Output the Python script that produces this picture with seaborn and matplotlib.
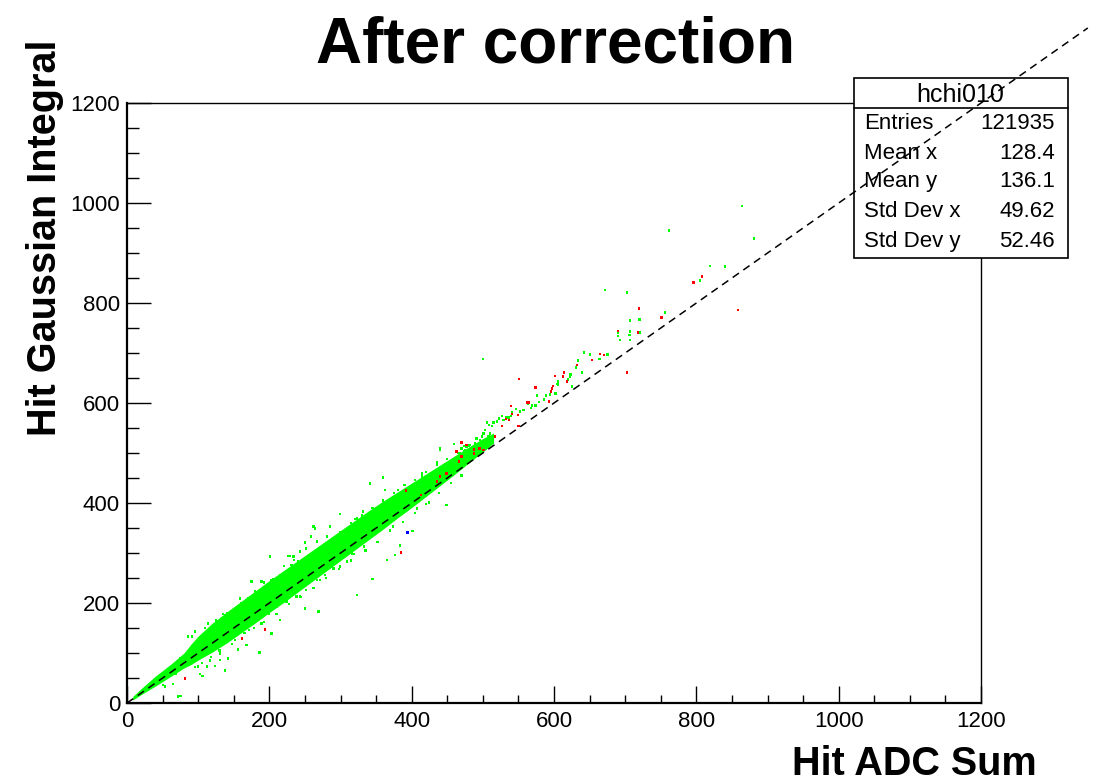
#!/usr/bin/env python3
import pandas as pd
import matplotlib
matplotlib.use('Agg')
import matplotlib.pyplot as plt
from matplotlib.patches import Rectangle
from matplotlib.lines import Line2D
from matplotlib.ticker import MultipleLocator
import seaborn as sns

sns.set_style('white')
plt.rcParams['font.family'] = ['Liberation Sans', 'DejaVu Sans']
plt.rcParams['text.color'] = 'black'
plt.rcParams['xtick.color'] = 'black'
plt.rcParams['ytick.color'] = 'black'

# dense core of the band
core_x = [8, 20, 40, 60, 80, 90, 100, 120, 140, 160, 180, 200, 220, 240, 260,
          280, 300, 320, 340, 360, 380, 400, 420, 440, 460, 480, 500, 515]
core_lo = [6, 17, 34, 52, 70, 77, 86, 102, 120, 140, 160, 181, 201, 222, 243,
           264, 285, 306, 327, 348, 370, 391, 413, 435, 457, 480, 502, 520]
core_hi = [13, 29, 54, 76, 100, 118, 134, 160, 182, 203, 224, 245, 265, 285, 305,
           325, 345, 365, 385, 404, 422, 440, 458, 476, 494, 512, 529, 540]

green_x = [864, 762, 881, 819, 840, 805, 672, 702, 756, 720, 707, 707, 690, 690, 693,
           706, 707, 720, 500, 642, 651, 664, 675, 634, 631, 639, 623, 622, 620, 625,
           606, 605, 604, 602, 594, 589, 586, 576, 579, 574, 569, 568, 552, 547, 541,
           540, 536, 533, 529, 527, 523, 520, 515, 513, 509, 506, 503, 510, 508, 501,
           499, 496, 491, 489, 487, 482, 477, 475, 473, 470, 468, 484, 459, 440, 563,
           557, 341, 360, 299, 285, 320, 332, 363, 381, 414, 436, 459, 440, 473, 449,
           407, 401, 306, 424, 421, 262, 259, 234, 227, 201, 192, 175, 140, 138, 91,
           75, 75, 269, 323, 345, 333, 346, 319, 299, 271, 243, 250, 215, 185, 168,
           131, 112, 103, 51, 414, 374, 384, 365, 377, 187, 138, 72, 142, 124, 117,
           156, 106, 65, 264, 250, 229, 235, 221, 202, 189, 180, 159, 154, 351, 323,
           316, 309, 290, 278, 267, 252, 238, 224, 210, 196, 281, 267, 252, 243, 231,
           86, 96, 114, 138, 161, 185, 152, 171, 189, 131, 100, 68, 53, 199, 203,
           110, 125, 135, 145, 160, 170, 175, 195, 205, 215, 225, 240, 255, 270, 285,
           300, 315, 330, 345, 360, 375, 390, 405, 420, 435, 450, 465, 480,
           95, 105, 118, 130, 148, 165, 178, 192, 210, 228, 245, 262, 280, 298, 315,
           335, 352, 370, 388, 405, 420, 438, 455, 470]
green_y = [994, 945, 929, 874, 873, 845, 826, 821, 781, 767, 765, 743, 741, 734, 726,
           736, 726, 741, 688, 701, 697, 688, 697, 685, 671, 661, 657, 653, 647, 633,
           643, 637, 638, 619, 617, 615, 607, 615, 602, 595, 595, 590, 583, 588, 581,
           574, 571, 571, 566, 574, 569, 563, 561, 554, 556, 561, 546, 539, 533, 539,
           533, 526, 529, 519, 513, 516, 513, 506, 503, 509, 499, 503, 518, 509, 599,
           586, 439, 451, 378, 353, 368, 383, 426, 426, 459, 481, 518, 506, 514, 396,
           389, 344, 343, 401, 416, 353, 333, 293, 294, 293, 241, 243, 179, 176, 133,
           89, 14, 183, 216, 248, 313, 341, 298, 273, 246, 213, 189, 166, 101, 116,
           86, 73, 58, 36, 453, 353, 315, 286, 296, 101, 65, 13, 89, 74, 85,
           107, 54, 38, 349, 321, 294, 286, 274, 246, 243, 223, 209, 186, 389, 369,
           299, 283, 269, 256, 246, 226, 213, 203, 193, 186, 333, 323, 309, 303, 276,
           133, 143, 159, 176, 193, 206, 126, 146, 159, 99, 73, 59, 33, 179, 139,
           150, 165, 178, 170, 200, 210, 195, 232, 248, 255, 262, 283, 290, 310, 320,
           342, 360, 375, 390, 405, 420, 436, 446, 462, 476, 488, 500, 515,
           72, 80, 92, 105, 118, 140, 150, 162, 178, 198, 212, 230, 250, 268, 285,
           305, 322, 345, 362, 380, 398, 420, 440, 455]

red_x = [719, 796, 808, 858, 751, 690, 718, 665, 670, 653, 702, 551, 601, 614, 613,
         618, 597, 599, 574, 632, 596, 593, 562, 565, 539, 537, 532, 541, 549, 527,
         550, 517, 496, 501, 470, 487, 413, 392, 435, 440, 449, 466, 470, 477, 488,
         463, 494, 385, 194, 161, 82]
red_y = [789, 841, 853, 786, 771, 744, 741, 698, 696, 686, 661, 648, 654, 661, 653,
         643, 629, 634, 631, 676, 623, 603, 601, 601, 594, 566, 568, 578, 576, 554,
         554, 533, 509, 506, 521, 499, 416, 425, 443, 453, 459, 483, 493, 516, 507,
         503, 509, 301, 147, 129, 49]

blue_x = [394]
blue_y = [341]

stats_labels = ['Entries', 'Mean x', 'Mean y', 'Std Dev x', 'Std Dev y']
stats_values = ['121935', '128.4', '136.1', '49.62', '52.46']

df = pd.concat([
    pd.DataFrame({'adc': green_x, 'gaus': green_y, 'set': 'g'}),
    pd.DataFrame({'adc': red_x, 'gaus': red_y, 'set': 'r'}),
    pd.DataFrame({'adc': blue_x, 'gaus': blue_y, 'set': 'b'}),
])

fig = plt.figure(figsize=(10.97, 7.82), dpi=100)
ax = fig.add_axes([0.1158, 0.101, 0.7785, 0.7673])

ax.fill_between(core_x, core_lo, core_hi, color='#00ff00', lw=0, zorder=2)
sns.scatterplot(data=df, x='adc', y='gaus', hue='set',
                palette={'g': '#00ff00', 'r': '#ff0000', 'b': '#0000ff'},
                marker='s', s=2.5, linewidth=0, legend=False, ax=ax, zorder=3)

ax.set_xlim(0, 1200)
ax.set_ylim(0, 1200)
ax.set_xlabel('')
ax.set_ylabel('')
ax.xaxis.set_major_locator(MultipleLocator(200))
ax.xaxis.set_minor_locator(MultipleLocator(50))
ax.yaxis.set_major_locator(MultipleLocator(200))
ax.yaxis.set_minor_locator(MultipleLocator(50))
ax.tick_params(axis='x', which='major', direction='in', length=12, width=1,
               labelsize=16, pad=6, bottom=True, top=False)
ax.tick_params(axis='x', which='minor', direction='in', length=6, width=1,
               bottom=True, top=False)
ax.tick_params(axis='y', which='major', direction='in', length=17, width=1,
               labelsize=16, pad=5, left=True, right=False)
ax.tick_params(axis='y', which='minor', direction='in', length=8.5, width=1,
               left=True, right=False)
for side in ['left', 'bottom']:
    ax.spines[side].set_linewidth(1.6)
for side in ['top', 'right']:
    ax.spines[side].set_linewidth(1.0)
for sp in ax.spines.values():
    sp.set_color('black')

# stats box
box = Rectangle((0.7785, 0.6707), 0.1951, 0.2295, transform=fig.transFigure,
                facecolor='white', edgecolor='black', lw=1.2, zorder=5)
fig.add_artist(box)
fig.add_artist(Line2D([0.7785, 0.9736], [0.8623, 0.8623], transform=fig.transFigure,
                      color='black', lw=1.2, zorder=5))
fig.text(0.875, 0.8785, 'hchi010', ha='center', va='center', fontsize=18, zorder=6)
row_y = [0.8423, 0.8040, 0.7676, 0.7293, 0.6909]
for lab, val, yy in zip(stats_labels, stats_values, row_y):
    fig.text(0.7876, yy, lab, ha='left', va='center', fontsize=16, zorder=6)
    fig.text(0.9617, yy, val, ha='right', va='center', fontsize=16, zorder=6)

# y = x reference line, running past the frame
diag = Line2D([0, 1350], [0, 1350], transform=ax.transData, color='black',
              lw=1.1, ls=(0, (5, 3.5)), zorder=10, clip_on=False)
fig.add_artist(diag)

fig.text(0.5064, 0.92, 'After correction', ha='center', va='baseline',
         fontsize=46, fontweight='bold')
fig.text(0.945, 0.009, 'Hit ADC Sum', ha='right', va='baseline',
         fontsize=28.5, fontweight='bold')
fig.text(0.041, 0.949, 'Hit Gaussian Integral', ha='center', va='top',
         rotation=90, fontsize=28.5, fontweight='bold')

fig.savefig('out.png', dpi=100)
